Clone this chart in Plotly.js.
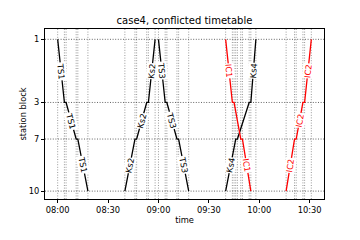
<!DOCTYPE html>
<html>
<head>
<meta charset="utf-8">
<script src="https://cdn.plot.ly/plotly-3.0.1.min.js"></script>
<style>html,body{margin:0;padding:0;background:#fff;}#chart{width:360px;height:240px;}</style>
</head>
<body>
<div id="chart"></div>
<script>
// ---- data ----
const stationNames = ['1', '3', '7', '10'];
const stationPos = [0, 41.6, 65.7, 100];
const trainNames = ['TS1', 'Ks2', 'TS3', 'Ks4', 'IC1', 'IC2'];
const ts1Times = ['08:00', '08:04', '08:05', '08:11', '08:12', '08:18'];
const ts1Stops = ['1', '3', '3', '7', '7', '10'];
const ks2Times = ['08:40', '08:46', '08:47', '08:53', '08:54', '08:58'];
const ks2Stops = ['10', '7', '7', '3', '3', '1'];
const ts3Times = ['09:00', '09:04', '09:05', '09:11', '09:12', '09:18'];
const ts3Stops = ['1', '3', '3', '7', '7', '10'];
const ks4Times = ['09:40', '09:46', '09:47', '09:54', '09:55', '09:58'];
const ks4Stops = ['10', '7', '7', '3', '3', '1'];
const ic1Times = ['09:40', '09:44', '09:45', '09:49', '09:50', '09:55'];
const ic1Stops = ['1', '3', '3', '7', '7', '10'];
const ic2Times = ['10:16', '10:21', '10:22', '10:26', '10:27', '10:31'];
const ic2Stops = ['10', '7', '7', '3', '3', '1'];
// segments whose label is not shown (conflict zone)
const unlabeledSegments = ['Ks4 7-3', 'IC1 3-7'];

const trainTimes = [ts1Times, ks2Times, ts3Times, ks4Times, ic1Times, ic2Times];
const trainStops = [ts1Stops, ks2Stops, ts3Stops, ks4Stops, ic1Stops, ic2Stops];

// ---- style ----
const trainColor = {TS1: 'black', Ks2: 'black', TS3: 'black', Ks4: 'black', IC1: 'red', IC2: 'red'};
const DAY = '2020-01-01 ';
const FONT = 'DejaVu Sans, sans-serif';
const W = 360, H = 240;
const M = {l: 45, r: 36, t: 29, b: 41};
const xRangeMin = [-7.55, 158.55]; // minutes after 08:00
const yRange = [105.2, -6.8];

function toMin(hhmm) { const p = hhmm.split(':'); return (+p[0] - 8) * 60 + (+p[1]); }
function minToStr(m) {
  const totalSec = Math.round((8 * 60 + m) * 60);
  const h = Math.floor(totalSec / 3600), mm = Math.floor((totalSec % 3600) / 60), s = totalSec % 60;
  const pad = v => String(v).padStart(2, '0');
  return DAY + pad(h) + ':' + pad(mm) + ':' + pad(s);
}
function posOf(name) { return stationPos[stationNames.indexOf(name)]; }

const plotW = W - M.l - M.r, plotH = H - M.t - M.b;
const pxPerMin = plotW / (xRangeMin[1] - xRangeMin[0]);
const pxPerUnit = plotH / Math.abs(yRange[0] - yRange[1]);

const traces = [];
const annotations = [];
const allTimes = new Set();

trainNames.forEach((name, i) => {
  const times = trainTimes[i], stops = trainStops[i];
  const color = trainColor[name];
  traces.push({
    type: 'scatter', mode: 'lines',
    x: times.map(t => DAY + t + ':00'),
    y: stops.map(posOf),
    line: {color: color, width: 1.3},
    hoverinfo: 'skip', showlegend: false
  });
  times.forEach(t => allTimes.add(t));
  for (let k = 0; k + 1 < times.length; k++) {
    if (stops[k] === stops[k + 1]) continue;
    if (unlabeledSegments.includes(name + ' ' + stops[k] + '-' + stops[k + 1])) continue;
    const t0 = toMin(times[k]), t1 = toMin(times[k + 1]);
    const y0 = posOf(stops[k]), y1 = posOf(stops[k + 1]);
    const ang = Math.atan2((y1 - y0) * pxPerUnit, (t1 - t0) * pxPerMin) * 180 / Math.PI;
    annotations.push({
      x: minToStr((t0 + t1) / 2), y: (y0 + y1) / 2, xref: 'x', yref: 'y',
      text: name, showarrow: false, textangle: ang,
      font: {family: FONT, size: 8.3, color: color},
      bgcolor: 'white', borderpad: 0
    });
  }
});

const shapes = Array.from(allTimes).map(t => ({
  type: 'line', xref: 'x', yref: 'paper',
  x0: DAY + t + ':00', x1: DAY + t + ':00', y0: 0, y1: 1,
  line: {color: '#999', width: 1, dash: '1px,1.6px'}, layer: 'below'
}));
// horizontal station grid lines
stationPos.forEach(p => shapes.push({
  type: 'line', xref: 'paper', yref: 'y', x0: 0, x1: 1, y0: p, y1: p,
  line: {color: '#666', width: 1, dash: '1px,1.6px'}, layer: 'below'
}));

const tickTimes = ['08:00', '08:30', '09:00', '09:30', '10:00', '10:30'];

const layout = {
  width: W, height: H,
  margin: M,
  paper_bgcolor: 'white', plot_bgcolor: 'white',
  font: {family: FONT, size: 8.3, color: 'black'},
  title: {text: 'case4, conflicted timetable', font: {family: FONT, size: 10, color: 'black'},
          x: 0.5, xref: 'paper', y: 1 - 20 / 240, yref: 'container', yanchor: 'middle'},
  xaxis: {
    type: 'date',
    range: [minToStr(xRangeMin[0]), minToStr(xRangeMin[1])],
    tickvals: tickTimes.map(t => DAY + t + ':00'),
    ticktext: tickTimes,
    showgrid: false, zeroline: false,
    showline: true, mirror: true, linecolor: 'black', linewidth: 1,
    ticks: 'outside', ticklen: 3, tickwidth: 1, tickcolor: 'black',
    tickfont: {family: FONT, size: 8.3, color: 'black'},
    title: {text: 'time', font: {family: FONT, size: 8.3, color: 'black'}, standoff: 3}
  },
  yaxis: {
    range: yRange,
    tickvals: stationPos, ticktext: stationNames,
    showgrid: false, zeroline: false,
    showline: true, mirror: true, linecolor: 'black', linewidth: 1,
    ticks: 'outside', ticklen: 3, tickwidth: 1, tickcolor: 'black',
    tickfont: {family: FONT, size: 8.3, color: 'black'},
    title: {text: 'station block', font: {family: FONT, size: 8.3, color: 'black'}, standoff: 0}
  },
  shapes: shapes,
  annotations: annotations
};

Plotly.newPlot('chart', traces, layout, {staticPlot: true, displayModeBar: false});
</script>
</body>
</html>
